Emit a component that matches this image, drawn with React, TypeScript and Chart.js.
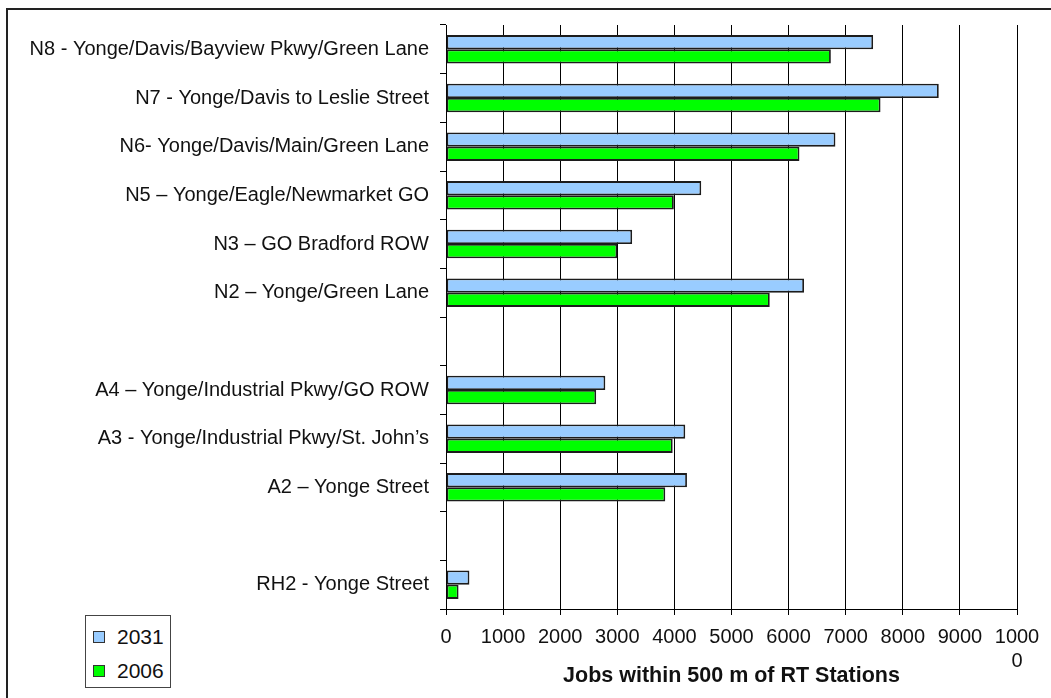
import { useEffect, useRef } from "react";
import { Chart, registerables } from "chart.js";

Chart.register(...registerables);

// Station areas, top to bottom; empty strings leave gaps between the groups.
const stations = [
  "N8 - Yonge/Davis/Bayview Pkwy/Green Lane",
  "N7 - Yonge/Davis to Leslie Street",
  "N6- Yonge/Davis/Main/Green Lane",
  "N5 – Yonge/Eagle/Newmarket GO",
  "N3 – GO Bradford ROW",
  "N2 – Yonge/Green Lane",
  "",
  "A4 – Yonge/Industrial Pkwy/GO ROW",
  "A3 - Yonge/Industrial Pkwy/St. John’s",
  "A2 – Yonge Street",
  "",
  "RH2 - Yonge Street",
];

const seriesNames = ["2031", "2006"];
const jobs2031 = [7480, 8630, 6820, 4470, 3260, 6270, null, 2790, 4190, 4220, null, 410];
const jobs2006 = [6740, 7610, 6190, 3990, 3000, 5670, null, 2630, 3970, 3840, null, 220];
const seriesColors = ["#99CCFF", "#00FF00"];

const xMax = 10000;
const xStep = 1000;
const axisTitle = "Jobs within 500 m of RT Stations";

const FONT = "'Liberation Sans', Arial, sans-serif";

export default function App() {
  const canvasRef = useRef<HTMLCanvasElement | null>(null);

  useEffect(() => {
    const canvas = canvasRef.current;
    if (!canvas) return;
    const chart = new Chart(canvas, {
      type: "bar",
      data: {
        labels: stations,
        datasets: seriesNames.map((name, i) => ({
          label: name,
          data: i === 0 ? jobs2031 : jobs2006,
          backgroundColor: seriesColors[i],
          borderColor: "#1c1c1c",
          borderWidth: 1.8,
          borderSkipped: false,
        })),
      },
      options: {
        indexAxis: "y",
        responsive: false,
        animation: false,
        devicePixelRatio: 1,
        layout: { padding: { left: 0, top: 25, right: 34, bottom: 0 } },
        datasets: {
          bar: { categoryPercentage: 0.585, barPercentage: 1 },
        },
        plugins: {
          legend: { display: false },
          tooltip: { enabled: false },
        },
        scales: {
          x: {
            type: "linear",
            min: 0,
            max: xMax,
            afterFit: (s: any) => {
              s.height = 89;
            },
            ticks: {
              stepSize: xStep,
              autoSkip: false,
              maxRotation: 0,
              minRotation: 0,
              padding: 10,
              color: "#111",
              font: { family: FONT, size: 20 },
              // the widest value wraps onto a second line
              callback: (v: any) => {
                const s = String(v);
                return Number(v) === xMax ? [s.slice(0, 4), s.slice(4)] : s;
              },
            },
            grid: {
              color: "#000",
              lineWidth: 1,
              tickLength: 6,
              drawOnChartArea: true,
            },
            border: { display: true, color: "#000", width: 1 },
            title: {
              display: true,
              text: axisTitle,
              color: "#111",
              font: { family: FONT, size: 21.5, weight: "bold" },
              padding: { top: 0, bottom: 9 },
            },
          },
          y: {
            type: "category",
            afterFit: (s: any) => {
              s.width = 446;
            },
            ticks: {
              autoSkip: false,
              padding: 11,
              color: "#111",
              font: { family: FONT, size: 20 },
            },
            grid: {
              color: "#000",
              lineWidth: 1,
              tickLength: 6,
              drawOnChartArea: false,
              offset: true,
            },
            border: { display: true, color: "#000", width: 1 },
          },
        },
      },
    });
    return () => chart.destroy();
  }, []);

  return (
    <div style={{ position: "fixed", left: 0, top: 0, width: 1051, height: 698, overflow: "hidden", background: "#fff" }}>
      <canvas ref={canvasRef} width={1051} height={698} style={{ display: "block", position: "absolute", left: 0, top: 0 }} />
      <div
        style={{
          position: "absolute",
          left: 6,
          top: 8,
          width: 1045,
          height: 690,
          boxSizing: "border-box",
          borderTop: "2px solid #222",
          borderLeft: "2px solid #222",
          pointerEvents: "none",
        }}
      />
      <div
        style={{
          position: "absolute",
          left: 85,
          top: 615,
          width: 86,
          height: 73,
          boxSizing: "border-box",
          border: "1px solid #444",
          background: "#fff",
          fontFamily: FONT,
          fontSize: 21,
          color: "#111",
        }}
      >
        {seriesNames.map((name, i) => (
          <div
            key={name}
            style={{ position: "absolute", left: 7, top: 9 + i * 34, height: 24, display: "flex", alignItems: "center" }}
          >
            <span
              style={{
                display: "inline-block",
                width: 10,
                height: 10,
                background: seriesColors[i],
                border: "1px solid #333",
                marginRight: 12,
              }}
            />
            <span style={{ lineHeight: "24px" }}>{name}</span>
          </div>
        ))}
      </div>
    </div>
  );
}
